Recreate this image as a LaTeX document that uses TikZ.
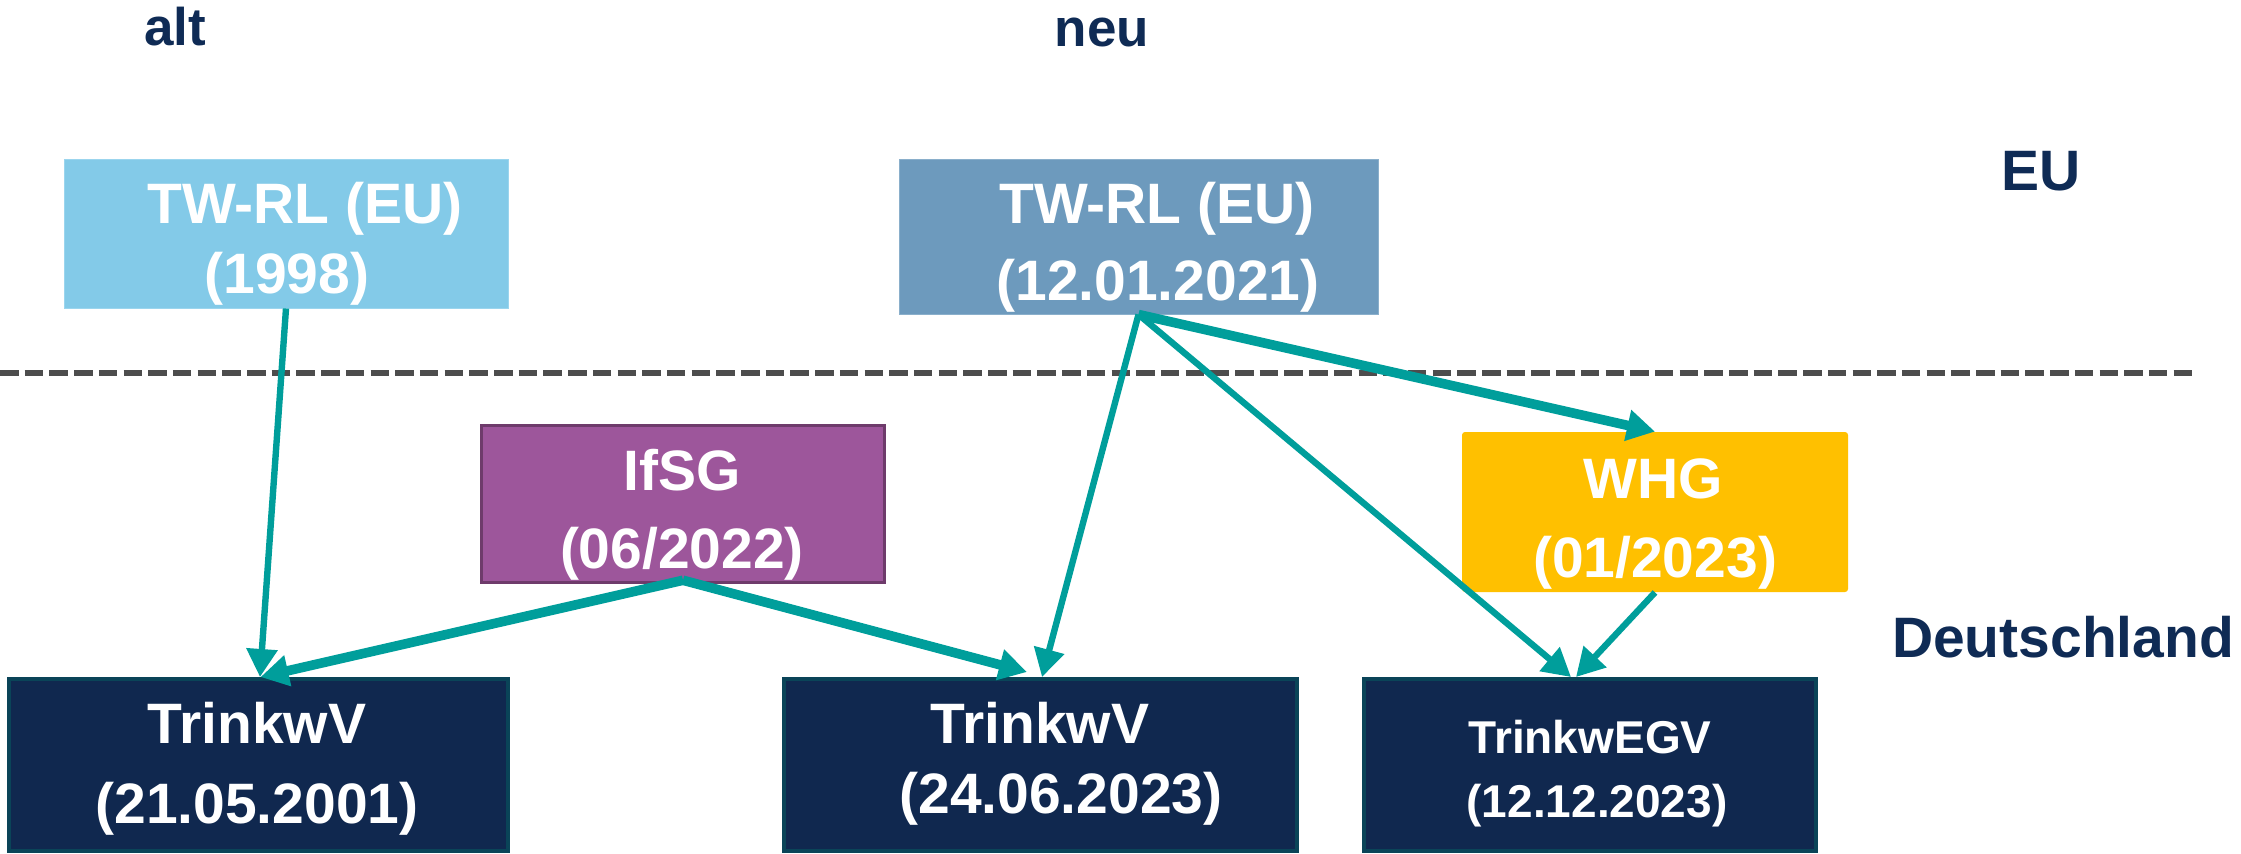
\documentclass[tikz,border=0pt]{standalone}
\usepackage{fontspec}
\setmainfont{Liberation Sans}
\usetikzlibrary{arrows.meta}
\definecolor{arrteal}{HTML}{009E9B}
\definecolor{navytxt}{HTML}{0F2B55}
\definecolor{lightblue}{HTML}{83CAE8}
\definecolor{lightblueb}{HTML}{9BD5EE}
\definecolor{steelblue}{HTML}{6D9ABD}
\definecolor{steelblueb}{HTML}{8AAFCB}
\definecolor{purplefill}{HTML}{9D569B}
\definecolor{purpleedge}{HTML}{6E3B6B}
\definecolor{ambfill}{HTML}{FFC000}
\definecolor{navyfill}{HTML}{10284F}
\definecolor{navyedge}{HTML}{0A4458}
\definecolor{dashgray}{HTML}{4D4D4D}
\begin{document}
\begin{tikzpicture}[x=0.5pt,y=-0.5pt,
  boxnode/.style={rectangle, inner sep=0pt},
  navybox/.style={boxnode, fill=navyfill, draw=navyedge, line width=2pt, minimum height=86pt},
  bigtxt/.style={inner sep=0pt, anchor=base, text=white, font=\bfseries\fontsize{28.5}{34}\selectfont},
  midtxt/.style={inner sep=0pt, anchor=base, text=white, font=\bfseries\fontsize{23}{28}\selectfont},
  headtxt/.style={inner sep=0pt, anchor=base, text=navytxt, font=\bfseries\fontsize{28.5}{34}\selectfont},
  smallhead/.style={inner sep=0pt, anchor=base, text=navytxt, font=\bfseries\fontsize{26.5}{32}\selectfont},
  thinarr/.style={draw=arrteal, line width=3.2pt, -{Triangle[length=14pt,width=15pt]}},
  thickarr/.style={draw=arrteal, line width=4.8pt, -{Triangle[length=14pt,width=15pt]}},
  dashline/.style={draw=dashgray, line width=2.75pt, dash pattern=on 9.25pt off 3.1pt}
]
\useasboundingbox (0,0) rectangle (2241,853);

% headings
\node[smallhead] (alt) at (175,45) {alt};
\node[smallhead] (neu) at (1102,46) {neu};
\node[headtxt] (eu) at (2041,190) {EU};
\node[headtxt] (de) at (2063,657) {Deutschland};

% dashed border line
\coordinate (dl) at (0,373);
\coordinate (dr) at (2197,373);
\draw[dashline] (dl) -- (dr);

% boxes
\node[boxnode, fill=lightblue, draw=lightblueb, line width=0.5pt, minimum width=222pt, minimum height=74.5pt] (tw98) at (286,233.5) {};
\node[boxnode, fill=steelblue, draw=steelblueb, line width=0.5pt, minimum width=239.5pt, minimum height=77.5pt] (tw21) at (1138.5,236.5) {};
\node[boxnode, fill=purplefill, draw=purpleedge, line width=1.75pt, minimum width=201.5pt, minimum height=78.5pt] (ifsg) at (683,504) {};
\node[boxnode, fill=ambfill, rounded corners=1.5pt, minimum width=193pt, minimum height=80pt] (whg) at (1655,512) {};
\node[navybox, minimum width=249.5pt] (tv01) at (258.5,765) {};
\node[navybox, minimum width=256.5pt] (tv23) at (1040.5,765) {};
\node[navybox, minimum width=226pt] (egv) at (1590,765) {};

% box texts
\node[bigtxt] (tw98a) at (305,223) {TW-RL (EU)};
\node[bigtxt] (tw98b) at (287,293) {(1998)};
\node[bigtxt] (tw21a) at (1157,223) {TW-RL (EU)};
\node[bigtxt] (tw21b) at (1158,300) {(12.01.2021)};
\node[bigtxt] (ifsga) at (682,490) {IfSG};
\node[bigtxt] (ifsgb) at (682,568) {(06/2022)};
\node[bigtxt] (whga) at (1653,498) {WHG};
\node[bigtxt] (whgb) at (1655,577) {(01/2023)};
\node[bigtxt] (tv01a) at (257,743) {TrinkwV};
\node[bigtxt] (tv01b) at (257,823) {(21.05.2001)};
\node[bigtxt] (tv23a) at (1040,743) {TrinkwV};
\node[bigtxt] (tv23b) at (1061,813) {(24.06.2023)};
\node[midtxt] (egva) at (1590,753) {TrinkwEGV};
\node[midtxt] (egvb) at (1597,817) {(12.12.2023)};

% connectors
\draw[thinarr] (tw98.south) -- ([xshift=0.75pt]tv01.north);
\draw[thickarr] ([yshift=2pt]ifsg.south) -- ([xshift=1pt]tv01.north);
\draw[thickarr] ([yshift=2pt]ifsg.south) -- ([xshift=-6.75pt,yshift=2.5pt]tv23.north);
\draw[thinarr] (tw21.south) -- ([xshift=0.75pt]tv23.north);
\draw[thinarr] (tw21.south) -- ([xshift=-9.5pt]egv.north);
\draw[thinarr] (whg.south) -- ([xshift=-7pt]egv.north);
\draw[thickarr] (tw21.south) -- (whg.north);
\end{tikzpicture}
\end{document}
